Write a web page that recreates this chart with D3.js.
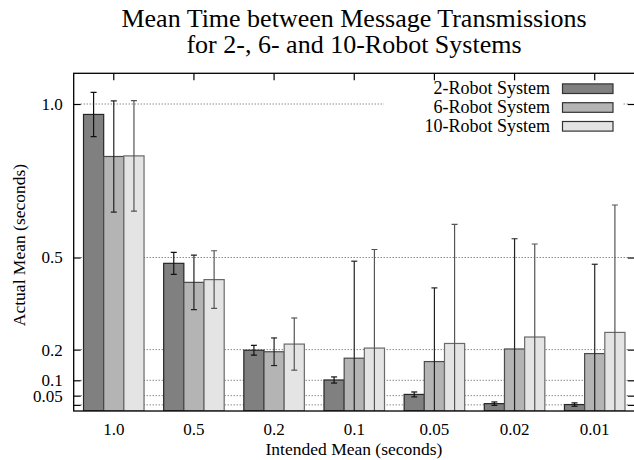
<!DOCTYPE html>
<html>
<head>
<meta charset="utf-8">
<script src="https://cdn.jsdelivr.net/npm/d3@7"></script>
<style>
  body { margin: 0; background: #fff; }
  svg { font-family: "Liberation Serif", "Times New Roman", serif; }
</style>
</head>
<body>
<div class="chart"></div>
<script>
// data
const categories = ["1.0", "0.5", "0.2", "0.1", "0.05", "0.02", "0.01"];
const seriesNames = ["2-Robot System", "6-Robot System", "10-Robot System"];
const mean2 = [0.966, 0.481, 0.198, 0.101, 0.054, 0.024, 0.021];
const err2 = [0.072, 0.036, 0.016, 0.010, 0.008, 0.0055, 0.0055];
const mean6 = [0.829, 0.419, 0.193, 0.172, 0.161, 0.202, 0.187];
const err6 = [0.181, 0.089, 0.045, 0.316, 0.240, 0.359, 0.291];
const mean10 = [0.831, 0.428, 0.218, 0.205, 0.220, 0.241, 0.256];
const err10 = [0.180, 0.094, 0.085, 0.321, 0.388, 0.303, 0.415];
const yTicks = [1.0, 0.5, 0.2, 0.1, 0.05, 0.02];
const yTickLabels = ["1.0", "0.5", "0.2", "0.1", "0.05", ""];

const means = [mean2, mean6, mean10];
const errs = [err2, err6, err10];
const fills = ["#808080", "#b4b4b4", "#e4e4e4"];
const strokes = ["#262626", "#4a4a4a", "#6a6a6a"];
const errColors = ["#111", "#222", "#555"];

const W = 634, H = 460;
const margin = {top: 73.3, left: 73.7, right: 634.8, bottom: 411};

const svg = d3.select(".chart").append("svg")
    .attr("width", W).attr("height", H);

const x0 = d3.scaleBand()
    .domain(categories)
    .range([margin.left, margin.right])
    .paddingInner(0.245)
    .paddingOuter(0.1225);

const x1 = d3.scaleBand()
    .domain(d3.range(3))
    .range([0, x0.bandwidth()]);

const y = d3.scaleLinear()
    .domain([0, 1.1])
    .range([margin.bottom, margin.top]);

svg.append("clipPath").attr("id", "plot")
  .append("rect")
    .attr("x", margin.left).attr("y", margin.top)
    .attr("width", margin.right - margin.left)
    .attr("height", margin.bottom - margin.top);

// grid lines (dotted), broken by the legend box at 1.0
const grid = svg.append("g");
yTicks.forEach(t => {
    grid.append("line")
        .attr("x1", margin.left + 7).attr("x2", margin.right - 7)
        .attr("y1", y(t)).attr("y2", y(t))
        .attr("stroke", "#555").attr("stroke-width", 1)
        .attr("stroke-dasharray", "1,2");
});

// white legend box hides the grid behind it
svg.append("rect")
    .attr("x", 384).attr("y", 78)
    .attr("width", 239).attr("height", 58)
    .attr("fill", "#fff");

// bars
const plot = svg.append("g").attr("clip-path", "url(#plot)");
means.forEach((m, s) => {
    plot.append("g").selectAll("rect")
        .data(m)
        .enter()
        .append("rect")
        .attr("x", (d, i) => x0(categories[i]) + x1(s))
        .attr("y", d => y(d))
        .attr("width", x1.bandwidth())
        .attr("height", d => y(0) - y(d))
        .attr("fill", fills[s])
        .attr("stroke", strokes[s])
        .attr("stroke-width", 1.2);
});

// error bars
means.forEach((m, s) => {
    const g = plot.append("g")
        .attr("stroke", errColors[s])
        .attr("stroke-width", 1.2);
    m.forEach((d, i) => {
        const cx = x0(categories[i]) + x1(s) + x1.bandwidth() / 2;
        const hi = d + errs[s][i], lo = d - errs[s][i];
        g.append("line").attr("x1", cx).attr("x2", cx)
            .attr("y1", y(hi)).attr("y2", y(Math.max(lo, -0.1)));
        g.append("line").attr("x1", cx - 3).attr("x2", cx + 3)
            .attr("y1", y(hi)).attr("y2", y(hi));
        if (lo > 0) {
            g.append("line").attr("x1", cx - 3).attr("x2", cx + 3)
                .attr("y1", y(lo)).attr("y2", y(lo));
        }
    });
});

// axes: left with labels, right mirror ticks, top category ticks
const yAxis = d3.axisLeft(y)
    .tickValues(yTicks)
    .tickFormat((d, i) => yTickLabels[i])
    .tickSizeInner(-7)
    .tickSizeOuter(0)
    .tickPadding(11);

const gy = svg.append("g")
    .attr("transform", `translate(${margin.left},0)`)
    .call(yAxis);
gy.select(".domain").remove();
gy.selectAll("text").attr("font-size", 17).attr("fill", "#000")
    .attr("font-family", "Liberation Serif");

const gyr = svg.append("g")
    .attr("transform", `translate(${margin.right},0)`)
    .call(d3.axisRight(y).tickValues(yTicks).tickSizeInner(-7).tickSizeOuter(0).tickFormat(""));
gyr.select(".domain").remove();

const gxt = svg.append("g")
    .attr("transform", `translate(0,${margin.top})`)
    .call(d3.axisTop(x0).tickSizeInner(-7).tickSizeOuter(0).tickFormat(""));
gxt.select(".domain").remove();

const xAxis = d3.axisBottom(x0).tickSize(0).tickPadding(11.5);
const gx = svg.append("g")
    .attr("transform", `translate(0,${margin.bottom})`)
    .call(xAxis);
gx.select(".domain").remove();
gx.selectAll("text").attr("font-size", 17).attr("fill", "#000")
    .attr("font-family", "Liberation Serif");

svg.selectAll(".tick line").attr("stroke", "#000").attr("stroke-width", 1.2);

// frame
svg.append("rect")
    .attr("x", margin.left).attr("y", margin.top)
    .attr("width", margin.right - margin.left)
    .attr("height", margin.bottom - margin.top)
    .attr("fill", "none")
    .attr("stroke", "#000")
    .attr("stroke-width", 1.3);

// legend
const legend = svg.append("g");
seriesNames.forEach((name, s) => {
    const cy = 88.7 + s * 18.8;
    legend.append("text")
        .attr("x", 550).attr("y", cy + 5.5)
        .attr("text-anchor", "end")
        .attr("font-size", 18)
        .text(name);
    legend.append("rect")
        .attr("x", 562.5).attr("y", cy - 4.8)
        .attr("width", 50.5).attr("height", 9.6)
        .attr("fill", fills[s])
        .attr("stroke", "#333")
        .attr("stroke-width", 1.2);
});

// titles
svg.append("text")
    .attr("x", 354).attr("y", 26.5)
    .attr("text-anchor", "middle")
    .attr("font-size", 26)
    .text("Mean Time between Message Transmissions");
svg.append("text")
    .attr("x", 354).attr("y", 53)
    .attr("text-anchor", "middle")
    .attr("font-size", 26)
    .text("for 2-, 6- and 10-Robot Systems");

svg.append("text")
    .attr("x", 354).attr("y", 455)
    .attr("text-anchor", "middle")
    .attr("font-size", 17.5)
    .text("Intended Mean (seconds)");

svg.append("text")
    .attr("transform", "translate(25,245) rotate(-90)")
    .attr("text-anchor", "middle")
    .attr("font-size", 17.5)
    .text("Actual Mean (seconds)");
</script>
</body>
</html>
